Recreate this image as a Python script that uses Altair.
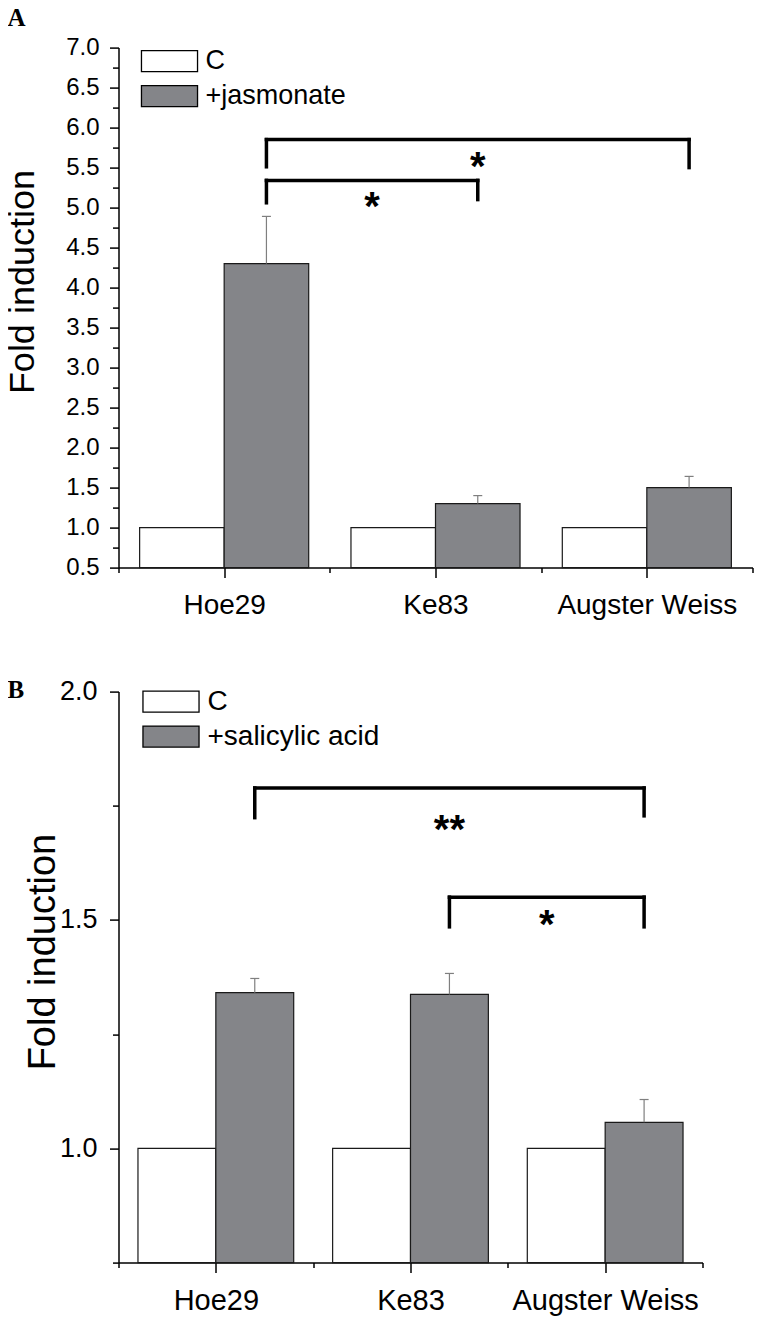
import altair as alt
import pandas as pd

FONT = "Liberation Sans"
GRAY = "#848589"
ERR_GRAY = "#7f7f7f"

genotypes = ["Hoe29", "Ke83", "Augster Weiss"]

# ---------------- Panel A (jasmonate) ----------------
a_groups = ["C", "+jasmonate"]
a_control = [1.0, 1.0, 1.0]
a_treated = [4.3, 1.3, 1.5]
a_treated_err = [0.59, 0.10, 0.14]
a_pair_from = ["Hoe29", "Hoe29"]
a_pair_to = ["Ke83", "Augster Weiss"]
a_pair_top = [5.34, 5.85]
a_pair_left_end = [5.06, 5.51]
a_pair_right_end = [5.10, 5.50]
a_pair_mark = ["*", "*"]
a_pair_mark_y = [5.06, 5.56]
a_y_ticks = [0.5, 0.75, 1.0, 1.25, 1.5, 1.75, 2.0, 2.25, 2.5, 2.75, 3.0, 3.25, 3.5,
             3.75, 4.0, 4.25, 4.5, 4.75, 5.0, 5.25, 5.5, 5.75, 6.0, 6.25, 6.5, 6.75, 7.0]
a_y_domain = [0.5, 7.0]

# ---------------- Panel B (salicylic acid) ----------------
b_groups = ["C", "+salicylic acid"]
b_control = [1.0, 1.0, 1.0]
b_treated = [1.341, 1.337, 1.057]
b_treated_err = [0.031, 0.046, 0.050]
b_pair_from = ["Hoe29", "Ke83"]
b_pair_to = ["Augster Weiss", "Augster Weiss"]
b_pair_top = [1.789, 1.55]
b_pair_left_end = [1.724, 1.485]
b_pair_right_end = [1.728, 1.485]
b_pair_mark = ["**", "*"]
b_pair_mark_y = [1.707, 1.498]
b_y_ticks = [0.75, 1.0, 1.25, 1.5, 1.75, 2.0]
b_y_domain = [0.75, 2.0]

x_ticks = [0.5, 1.0, 1.5, 2.0, 2.5, 3.0, 3.5]
HALF = 0.4  # bar width in group units


def bar_tables(control, treated, err, groups, base):
    bars, errs = [], []
    for i, g in enumerate(genotypes):
        c = i + 1
        bars.append(dict(genotype=g, treatment=groups[0], value=control[i],
                         x0=c - HALF, x1=c, base=base))
        bars.append(dict(genotype=g, treatment=groups[1], value=treated[i],
                         x0=c, x1=c + HALF, base=base))
        errs.append(dict(genotype=g, xc=c + HALF / 2, value=treated[i],
                         top=treated[i] + err[i]))
    return pd.DataFrame(bars), pd.DataFrame(errs)


def bracket_tables(p_from, p_to, top, lend, rend, marks, mark_y):
    segs, labels = [], []
    for f, t, y, yl, yr, m, my in zip(p_from, p_to, top, lend, rend, marks, mark_y):
        xf = genotypes.index(f) + 1 + HALF / 2
        xt = genotypes.index(t) + 1 + HALF / 2
        segs.append(dict(x=xf, x2=xt, y=y, y2=y))
        segs.append(dict(x=xf, x2=xf, y=yl, y2=y))
        segs.append(dict(x=xt, x2=xt, y=yr, y2=y))
        labels.append(dict(x=(xf + xt) / 2, y=my, label=m))
    return pd.DataFrame(segs), pd.DataFrame(labels)


x_label_expr = "".join(
    f"datum.value == {i + 1} ? '{g}' : " for i, g in enumerate(genotypes)
) + "''"


def panel(letter, control, treated, err, groups, ydomain, yticks,
          p_from, p_to, ptop, plend, prend, pmarks, pmarky,
          width, height, ylab_size, xlab_size, ytitle_size, ytitle_x, ytitle_y,
          ylab_pad, xlab_pad, leg_x, leg_y, leg_size, letter_x, letter_y):
    bars_df, err_df = bar_tables(control, treated, err, groups, ydomain[0])
    seg_df, lab_df = bracket_tables(p_from, p_to, ptop, plend, prend, pmarks, pmarky)

    xs = alt.Scale(domain=[0.5, 3.5], nice=False, zero=False)
    ys = alt.Scale(domain=ydomain, nice=False, zero=False)
    xax = alt.Axis(
        values=x_ticks, labelExpr=x_label_expr, title=None, labelLimit=400,
        tickSize={"condition": {"test": "datum.value % 1 == 0", "value": 10}, "value": 5},
        labelFontSize=xlab_size, labelPadding=xlab_pad,
    )
    yax = alt.Axis(
        values=yticks, title="Fold induction", labelLimit=200,
        labelExpr="datum.value % 0.5 == 0 ? format(datum.value, '.1f') : ''",
        tickSize={"condition": {"test": "datum.value % 0.5 == 0", "value": 9}, "value": 6},
        labelFontSize=ylab_size, labelPadding=ylab_pad,
        titleFontSize=ytitle_size, titleX=ytitle_x, titleY=ytitle_y,
        titleBaseline="alphabetic",
    )
    leg = alt.Legend(
        orient="none", legendX=leg_x, legendY=leg_y, title=None, padding=0,
        symbolType="M-2.67,-1H2.67V1H-2.67Z", symbolSize=441,
        symbolStrokeColor="black", symbolStrokeWidth=1.3, symbolOpacity=1,
        labelFont=FONT, labelFontSize=leg_size, labelColor="black",
        labelOffset=22.5, rowPadding=7, labelLimit=400,
    )

    bars = alt.Chart(bars_df).mark_bar(stroke="#1a1a1a", strokeWidth=1.2, opacity=1).encode(
        x=alt.X("x0:Q", scale=xs, axis=xax),
        x2="x1:Q",
        y=alt.Y("value:Q", scale=ys, axis=yax),
        y2="base:Q",
        fill=alt.Fill("treatment:N", scale=alt.Scale(domain=groups, range=["white", GRAY]),
                      legend=leg),
    )
    err_rule = alt.Chart(err_df).mark_rule(color=ERR_GRAY, strokeWidth=1.2).encode(
        x=alt.X("xc:Q", scale=xs, axis=xax),
        y=alt.Y("value:Q", scale=ys, axis=yax),
        y2="top:Q",
    )
    err_cap = alt.Chart(err_df).mark_tick(orient="horizontal", size=9, thickness=1.2,
                                          color=ERR_GRAY, opacity=1).encode(
        x=alt.X("xc:Q", scale=xs, axis=xax),
        y=alt.Y("top:Q", scale=ys, axis=yax),
    )
    brackets = alt.Chart(seg_df).mark_rule(color="black", strokeWidth=3.5,
                                           strokeCap="square").encode(
        x=alt.X("x:Q", scale=xs, axis=xax),
        x2="x2:Q",
        y=alt.Y("y:Q", scale=ys, axis=yax),
        y2="y2:Q",
    )
    stars = alt.Chart(lab_df).mark_text(font=FONT, fontSize=40, fontWeight="bold",
                                        color="black", baseline="alphabetic",
                                        align="center", dy=17.5).encode(
        x=alt.X("x:Q", scale=xs, axis=xax),
        y=alt.Y("y:Q", scale=ys, axis=yax),
        text="label:N",
    )
    panel_letter = alt.Chart(pd.DataFrame({"letter": [letter]})).mark_text(
        font="Liberation Serif", fontSize=25, fontWeight="bold", color="black",
        baseline="alphabetic", align="left",
    ).encode(x=alt.value(letter_x), y=alt.value(letter_y), text="letter:N")

    return alt.layer(bars, err_rule, err_cap, brackets, stars, panel_letter).properties(
        width=width, height=height,
    )


pA = panel("A", a_control, a_treated, a_treated_err, a_groups, a_y_domain, a_y_ticks,
           a_pair_from, a_pair_to, a_pair_top, a_pair_left_end, a_pair_right_end,
           a_pair_mark, a_pair_mark_y,
           width=634, height=520, ylab_size=24, xlab_size=28, ytitle_size=36,
           ytitle_x=-85, ytitle_y=234, ylab_pad=10.4, xlab_pad=13.5,
           leg_x=37.5, leg_y=0, leg_size=27, letter_x=-111, letter_y=-22)

pB = panel("B", b_control, b_treated, b_treated_err, b_groups, b_y_domain, b_y_ticks,
           b_pair_from, b_pair_to, b_pair_top, b_pair_left_end, b_pair_right_end,
           b_pair_mark, b_pair_mark_y,
           width=584, height=571, ylab_size=27, xlab_size=29, ytitle_size=38,
           ytitle_x=-64, ytitle_y=260, ylab_pad=12.4, xlab_pad=14,
           leg_x=38.5, leg_y=-4, leg_size=28, letter_x=-111, letter_y=6)

chart = alt.vconcat(pA, pB, spacing=124, bounds="flush").resolve_scale(
    fill="independent", x="independent", y="independent"
).resolve_legend(fill="independent").properties(
    padding={"left": -3.5, "top": -2.4, "right": 0, "bottom": 4}
).configure_view(stroke=None).configure_axis(
    grid=False, domainColor="black", domainWidth=1.5, tickColor="black", tickWidth=1.5,
    labelColor="black", labelFont=FONT, titleFont=FONT, titleColor="black",
    titleFontWeight="normal", labelOverlap=False, labelFlush=False, labelBound=False,
)

chart.save("out.html", embed_options={"renderer": "svg", "actions": False})
